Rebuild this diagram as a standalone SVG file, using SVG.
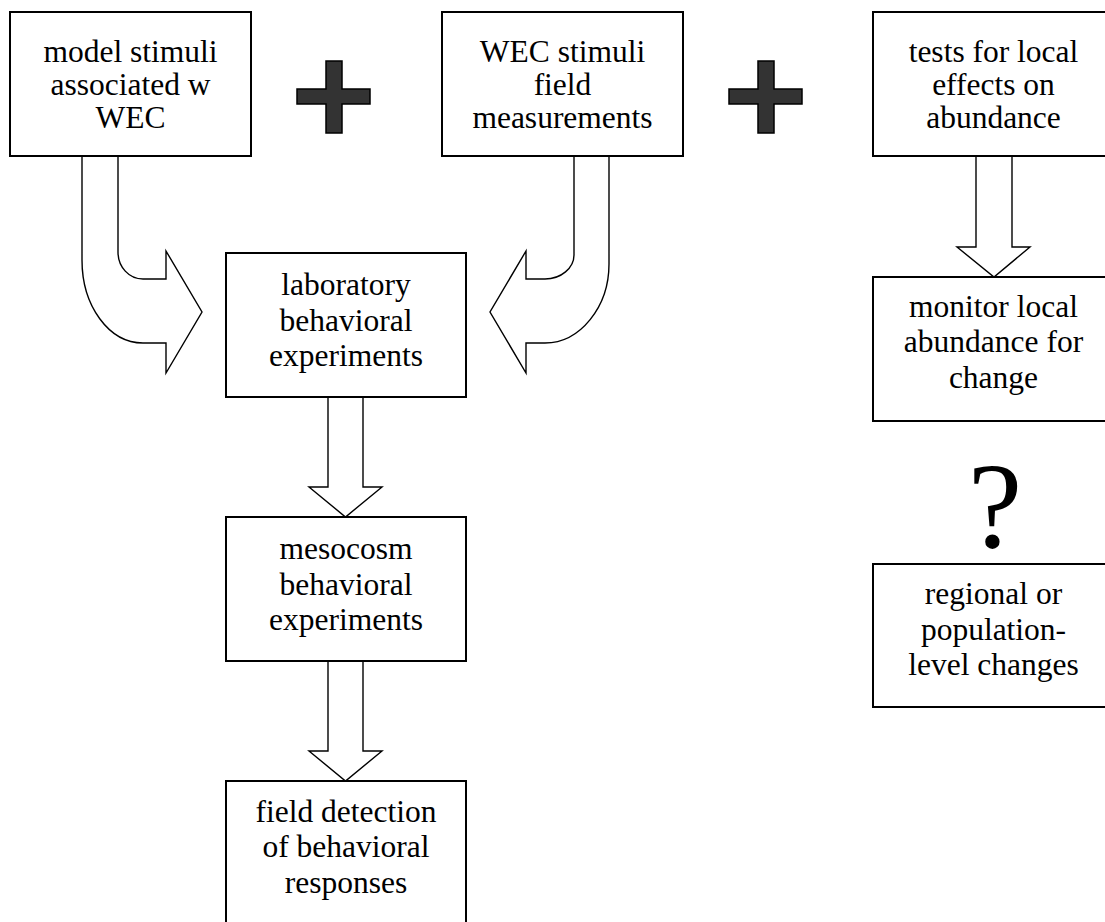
<svg xmlns="http://www.w3.org/2000/svg" width="1105" height="922" viewBox="0 0 1105 922">
<style>
.box{fill:#fff;stroke:#000;stroke-width:2}
.arr{fill:#fff;stroke:#000;stroke-width:1.4;stroke-linejoin:miter}
.plus{fill:#333;stroke:#000;stroke-width:1.5}
.t{font-family:'Liberation Serif',serif;font-size:31.5px;fill:#000;text-anchor:middle}
.q{font-family:'Liberation Serif',serif;font-size:122px;fill:#000;text-anchor:middle}
</style>
<rect width="1105" height="922" fill="#fff"/>
<g id="connectors">
<path class="arr" d="M82,156 L82,260 C82,306 109,343 143,343 L166,343 L166,373 L202,312 L166,251 L166,279 L143,279 C129,279 118,267 118,252 L118,156"/>
<path class="arr" d="M609,156 L609,264 C609,307 580,343 545,343 L526,343 L526,373 L490,312 L526,251 L526,279 L545,279 C561,279 574,268 574,255 L574,156"/>
<path class="arr" d="M328,397 L328,487 L309,487 L345.5,517 L382,487 L363,487 L363,397"/>
<path class="arr" d="M328,661 L328,751 L309,751 L345.5,781 L382,751 L363,751 L363,661"/>
<path class="arr" d="M976,156 L976,247 L957,247 L994,277 L1030,247 L1012,247 L1012,156"/>
</g>
<g id="plus1"><path class="plus" d="M326,61 H342 V89 H370 V104 H342 V133 H326 V104 H297 V89 H326 Z"/></g>
<g id="plus2"><path class="plus" d="M758,61 H774 V89 H802 V104 H774 V133 H758 V104 H729 V89 H758 Z"/></g>
<g id="model">
<rect class="box" x="10" y="12" width="241" height="144"/>
<text class="t" x="130.5" y="62">model stimuli</text>
<text class="t" x="130.5" y="95">associated w</text>
<text class="t" x="130.5" y="128">WEC</text>
</g>
<g id="wec">
<rect class="box" x="442" y="12" width="241" height="144"/>
<text class="t" x="562.5" y="62">WEC stimuli</text>
<text class="t" x="562.5" y="95">field</text>
<text class="t" x="562.5" y="128">measurements</text>
</g>
<g id="tests">
<rect class="box" x="873" y="12" width="241" height="144"/>
<text class="t" x="993.5" y="62">tests for local</text>
<text class="t" x="993.5" y="95">effects on</text>
<text class="t" x="993.5" y="128">abundance</text>
</g>
<g id="lab">
<rect class="box" x="226" y="253" width="240" height="144"/>
<text class="t" x="346" y="295">laboratory</text>
<text class="t" x="346" y="330.5">behavioral</text>
<text class="t" x="346" y="366">experiments</text>
</g>
<g id="meso">
<rect class="box" x="226" y="517" width="240" height="144"/>
<text class="t" x="346" y="559">mesocosm</text>
<text class="t" x="346" y="594.5">behavioral</text>
<text class="t" x="346" y="630">experiments</text>
</g>
<g id="field">
<rect class="box" x="226" y="781" width="240" height="144"/>
<text class="t" x="346" y="822">field detection</text>
<text class="t" x="346" y="857">of behavioral</text>
<text class="t" x="346" y="893">responses</text>
</g>
<g id="monitor">
<rect class="box" x="873" y="277" width="241" height="144"/>
<text class="t" x="993.5" y="317">monitor local</text>
<text class="t" x="993.5" y="352">abundance for</text>
<text class="t" x="993.5" y="388">change</text>
</g>
<g id="question"><text class="q" x="995" y="547">?</text></g>
<g id="regional">
<rect class="box" x="873" y="564" width="241" height="143"/>
<text class="t" x="993.5" y="604">regional or</text>
<text class="t" x="993.5" y="640">population-</text>
<text class="t" x="993.5" y="675">level changes</text>
</g>
</svg>
